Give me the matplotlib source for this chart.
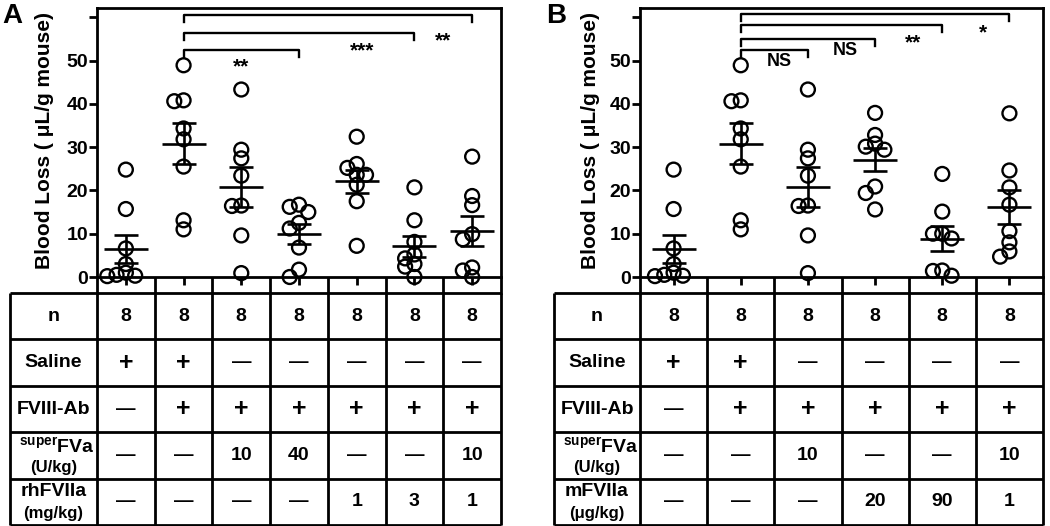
import numpy as np
import matplotlib
matplotlib.use('Agg')
import matplotlib.pyplot as plt

plt.rcParams['font.family'] = ['Liberation Sans', 'DejaVu Sans']
plt.rcParams['font.weight'] = 'bold'
plt.rcParams['mathtext.fontset'] = 'custom'
plt.rcParams['mathtext.rm'] = 'Liberation Sans'
plt.rcParams['mathtext.bf'] = 'Liberation Sans:bold'

# blood loss per mouse (uL/g)
saline = [24.8, 15.7, 6.6, 3.0, 1.0, 0.5, 0.3, 0.2]
ab_only = [48.9, 40.8, 40.6, 34.3, 31.8, 25.5, 13.1, 11.0]
sfva_10 = [43.3, 29.4, 27.4, 23.4, 16.5, 16.4, 9.6, 0.9]
sfva_40 = [16.7, 16.2, 15.0, 12.5, 11.2, 6.8, 1.7, 0.0]
rh_1 = [32.4, 26.1, 25.2, 23.6, 23.6, 21.3, 17.5, 7.2]
rh_3 = [20.7, 13.1, 8.1, 5.2, 4.3, 3.0, 2.4, 0.0]
sfva10_rh1 = [27.8, 18.7, 16.6, 9.9, 8.7, 2.2, 1.5, 0.0]
m_20 = [37.9, 32.8, 30.8, 30.1, 29.4, 20.9, 19.4, 15.6]
m_90 = [23.8, 15.1, 10.0, 10.0, 8.9, 1.5, 1.4, 0.3]
sfva10_m1 = [37.8, 24.6, 20.7, 16.7, 10.6, 8.0, 5.9, 4.7]

groups_a = [saline, ab_only, sfva_10, sfva_40, rh_1, rh_3, sfva10_rh1]
groups_b = [saline, ab_only, sfva_10, m_20, m_90, sfva10_m1]

row_labels_a = ['n', 'Saline', 'FVIII-Ab', 'FVa', 'rhFVIIa']
units_a = [None, None, None, '(U/kg)', '(mg/kg)']
table_a = [['8'] * 7,
           ['+', '+', '—', '—', '—', '—', '—'],
           ['—', '+', '+', '+', '+', '+', '+'],
           ['—', '—', '10', '40', '—', '—', '10'],
           ['—', '—', '—', '—', '1', '3', '1']]
row_labels_b = ['n', 'Saline', 'FVIII-Ab', 'FVa', 'mFVIIa']
units_b = [None, None, None, '(U/kg)', '(μg/kg)']
table_b = [['8'] * 6,
           ['+', '+', '—', '—', '—', '—'],
           ['—', '+', '+', '+', '+', '+'],
           ['—', '—', '10', '—', '—', '10'],
           ['—', '—', '—', '20', '90', '1']]

# (from group, to group, bracket level, label, label x, label y)
brackets_a = [(2, 4, 52.4, '**', 3.0, 49.7),
              (2, 6, 56.4, '***', 5.1, 53.6),
              (2, 7, 60.5, '**', 6.5, 55.9)]
brackets_b = [(2, 3, 52.4, 'NS', 2.57, 49.7),
              (2, 4, 55.0, 'NS', 3.55, 52.2),
              (2, 5, 58.2, '**', 4.56, 55.4),
              (2, 6, 60.7, '*', 5.6, 57.7)]

W, H = 1050, 526
fig = plt.figure(figsize=(W / 100, H / 100), dpi=100)

Y0_PX, PPU = 277, 4.33   # pixel row of zero, pixels per unit
PLOT_TOP, PLOT_BOT, TAB_BOT = 8, 293, 525


def swarm(vals, gw_px, step=9.3, dmin=8.0):
    vals = np.asarray(vals)
    offs = np.zeros(len(vals))
    placed = []
    for i in np.argsort(vals)[::-1]:
        for k in (0, -1, 1, -0.5, 0.5, -1.5, 1.5, -2, 2):
            x = k * step
            if all(np.hypot(x - px, (vals[i] - pv) * PPU) >= dmin for px, pv in placed):
                break
        placed.append((x, vals[i]))
        offs[i] = x / gw_px
    return offs


def panel(letter, groups, labels, units, cells, brackets, tab_left, plot_left, right, ylab_x):
    n = len(groups)
    gw = (right - plot_left) / n
    ax = fig.add_axes([plot_left / W, 1 - PLOT_BOT / H, (right - plot_left) / W, (PLOT_BOT - PLOT_TOP) / H])
    ax.set_xlim(0.5, n + 0.5)
    ax.set_ylim(-(PLOT_BOT - Y0_PX) / PPU, (Y0_PX - PLOT_TOP) / PPU)
    for s in ax.spines.values():
        s.set_linewidth(2.0)
    ax.spines['bottom'].set_position(('data', 0))
    ax.set_yticks(range(0, 61, 10))
    ax.set_yticklabels(['0', '10', '20', '30', '40', '50', ''])
    ax.set_xticks(range(1, n + 1))
    ax.set_xticklabels([])
    ax.tick_params(axis='both', direction='out', length=5.5, width=2.0, labelsize=14, pad=1)
    ax.vlines(np.arange(1.5, n), ax.get_ylim()[0], 0, color='k', lw=2.0)

    for g, vals in enumerate(groups, start=1):
        vals = np.asarray(vals)
        ax.scatter(g + swarm(vals, gw), vals, s=100, facecolors='none', edgecolors='k',
                   linewidths=1.7, zorder=3, clip_on=False)
        m = vals.mean()
        sem = vals.std(ddof=1) / np.sqrt(len(vals))
        hw, cw = 22 / gw, 12 / gw
        ax.hlines(m, g - hw, g + hw, color='k', lw=1.9, zorder=4)
        ax.hlines([m - sem, m + sem], g - cw, g + cw, color='k', lw=1.9, zorder=4)
        ax.vlines(g, m - sem, m + sem, color='k', lw=1.9, zorder=4)

    drop = 7 / PPU
    for x0, x1, y, lab, lx, ly in brackets:
        ax.plot([x0, x0, x1, x1], [y - drop, y, y, y - drop], color='k', lw=1.7, clip_on=False)
        if '*' in lab:
            ax.annotate(lab, (lx, ly), xytext=(0, -4), textcoords='offset points',
                        ha='center', va='center', fontsize=15)
        else:
            ax.text(lx, ly, lab, ha='center', va='center', fontsize=13)

    fig.text(ylab_x / W, 1 - 140 / H, 'Blood Loss ( μL/g mouse)', rotation=90,
             ha='center', va='center', fontsize=15)
    fig.text((tab_left + 2) / W, 1 - 16 / H, letter, ha='center', va='center', fontsize=20)

    # treatment table
    tx = fig.add_axes([tab_left / W, 1 - TAB_BOT / H, (right - tab_left) / W, (TAB_BOT - PLOT_BOT) / H])
    xl = 0.5 - (plot_left - tab_left) / gw
    tx.set_xlim(xl, n + 0.5)
    tx.set_ylim(5, 0)
    tx.axis('off')
    tx.hlines(range(6), xl, n + 0.5, color='k', lw=2.0, clip_on=False)
    tx.vlines([xl] + list(np.arange(0.5, n + 1)), 0, 5, color='k', lw=2.0, clip_on=False)
    lab_x = (xl + 0.5) / 2
    for r, (lab, unit, row) in enumerate(zip(labels, units, cells)):
        yc = r + 0.5
        if unit is None:
            tx.text(lab_x, yc, lab, ha='center', va='center', fontsize=14)
        elif lab == 'FVa':
            tx.text(lab_x + 0.06, yc - 0.17, r'$^{\mathrm{super}}$FVa', ha='center', va='center', fontsize=14)
            tx.text(lab_x, yc + 0.25, unit, ha='center', va='center', fontsize=12, weight='semibold')
        else:
            tx.text(lab_x, yc - 0.22, lab, ha='center', va='center', fontsize=14)
            tx.text(lab_x, yc + 0.25, unit, ha='center', va='center', fontsize=12, weight='semibold')
        for c, v in enumerate(row, start=1):
            fs = 18 if v == '+' else 14
            tx.text(c, yc, v, ha='center', va='center', fontsize=fs)


panel('A', groups_a, row_labels_a, units_a, table_a, brackets_a, 10, 97, 501, 45)
panel('B', groups_b, row_labels_b, units_b, table_b, brackets_b, 554, 640, 1043, 590)

fig.savefig('out.png', dpi=100)
